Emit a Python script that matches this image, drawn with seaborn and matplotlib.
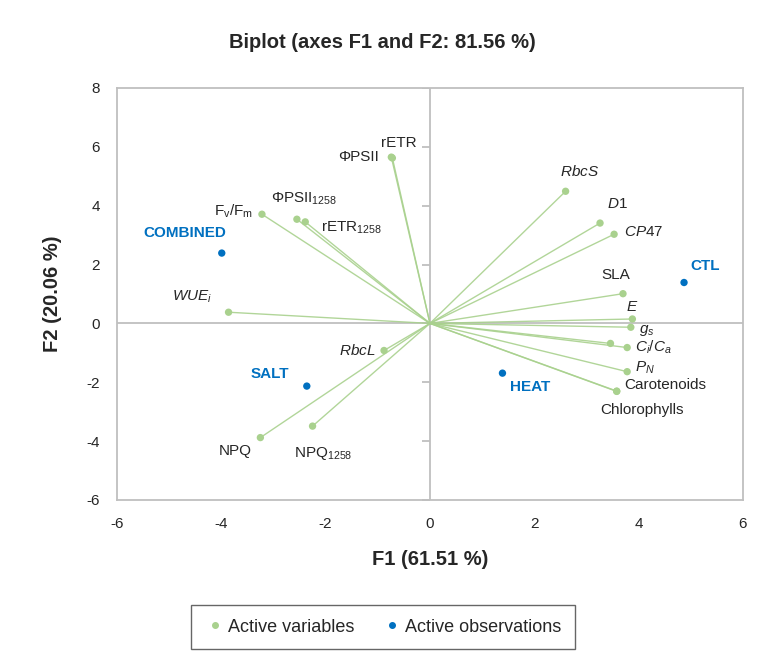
import matplotlib
matplotlib.use("Agg")
import matplotlib.pyplot as plt
import seaborn as sns
import pandas as pd
from matplotlib.lines import Line2D

var_nomes = ["rETR", "ΦPSII", r"F$_\mathregular{v}$/F$_\mathregular{m}$",
             r"ΦPSII$_\mathregular{1258}$", r"rETR$_\mathregular{1258}$",
             r"$\mathit{WUE_i}$", r"$\mathit{RbcS}$", r"$\mathit{D1}$", r"$\mathit{CP47}$",
             "SLA", r"$\mathit{E}$", r"$\mathit{g_s}$", "", r"$\mathit{C_i/C_a}$",
             r"$\mathit{P_N}$", "Carotenoids", "Chlorophylls", r"$\mathit{RbcL}$",
             "NPQ", r"NPQ$_\mathregular{1258}$"]
var_f1 = [-0.72, -0.74, -3.22, -2.55, -2.39, -3.86, 2.60, 3.26, 3.53,
          3.70, 3.88, 3.85, 3.46, 3.78, 3.78, 3.58, 3.58, -0.88, -3.25, -2.25]
var_f2 = [5.62, 5.65, 3.71, 3.54, 3.45, 0.38, 4.49, 3.41, 3.03,
          1.01, 0.15, -0.13, -0.68, -0.82, -1.64, -2.30, -2.31, -0.92, -3.88, -3.49]

obs_nomes = ["COMBINED", "CTL", "HEAT", "SALT"]
obs_f1 = [-3.99, 4.87, 1.39, -2.36]
obs_f2 = [2.39, 1.39, -1.69, -2.13]

# deslocamento dos rótulos (pixels) e alinhamento
var_off = [(6, 15, "center"), (-12, 0, "right"), (-9, 3, "right"), (7, 20, "center"),
           (16, -6, "left"), (-36, 15, "center"), (14, 20, "center"), (17, 19, "center"),
           (10, 2, "left"), (-7, 19, "center"), (0, 12, "center"), (8, -3, "left"),
           (0, 0, "center"), (8, 0, "left"), (8, 4, "left"), (8, 6, "left"),
           (25, -19, "center"), (-8, 0, "right"), (-25, -13, "center"), (11, -27, "center")]
obs_off = [(-37, 20), (21, 17), (28, -14), (-37, 12)]

verde = "#A9D18E"
azul = "#0070C0"
cinza = "#BFBFBF"

sns.set_style("white")
plt.rcParams["font.family"] = ["Liberation Sans", "DejaVu Sans"]
plt.rcParams["mathtext.fontset"] = "custom"
plt.rcParams["mathtext.rm"] = "Liberation Sans"
plt.rcParams["mathtext.it"] = "Liberation Sans:italic"
plt.rcParams["axes.unicode_minus"] = False

df_var = pd.DataFrame({"F1": var_f1, "F2": var_f2})
df_obs = pd.DataFrame({"F1": obs_f1, "F2": obs_f2})

fig = plt.figure(figsize=(7.64, 6.59), dpi=100)
ax = fig.add_axes([0.153, 0.2413, 0.8195, 0.6252])

ax.axhline(0, color=cinza, lw=1.3, zorder=1)
ax.axvline(0, color=cinza, lw=1.3, zorder=1)

xt = [-6, -4, -2, 0, 2, 4, 6]
yt = [-6, -4, -2, 0, 2, 4, 6, 8]
# marcas dos ticks sobre o eixo vertical (estilo Excel)
ax.plot([0] * len(yt), yt, ls="none", marker=0, ms=6, mew=1.3, color=cinza, zorder=1)

for x, y in zip(var_f1, var_f2):
    ax.plot([0, x], [0, y], color=verde, lw=1.0, alpha=0.9, zorder=2)

sns.scatterplot(data=df_var, x="F1", y="F2", color=verde, s=28, edgecolor="none", ax=ax, zorder=3)
sns.scatterplot(data=df_obs, x="F1", y="F2", color=azul, s=28, edgecolor="none", ax=ax, zorder=3)

for nome, x, y, (dx, dy, ha) in zip(var_nomes, var_f1, var_f2, var_off):
    ax.annotate(nome, (x, y), xytext=(dx, dy), textcoords="offset pixels",
                ha=ha, va="center", fontsize=11, color="#262626")

for nome, x, y, (dx, dy) in zip(obs_nomes, obs_f1, obs_f2, obs_off):
    ax.annotate(nome, (x, y), xytext=(dx, dy), textcoords="offset pixels",
                ha="center", va="center", fontsize=11, color=azul, fontweight="bold")

ax.set_xlim(-6, 6)
ax.set_ylim(-6, 8)
ax.set_xticks(xt)
ax.set_yticks(yt)
ax.tick_params(length=0, labelsize=11, pad=12, colors="#262626")
for s in ax.spines.values():
    s.set_color(cinza)
    s.set_linewidth(1.3)

ax.set_xlabel("F1 (61.51 %)", fontsize=14.5, fontweight="bold", labelpad=14)
ax.set_ylabel("F2 (20.06 %)", fontsize=14.5, fontweight="bold", labelpad=18)
fig.text(0.5, 1 - 43 / 659, "Biplot (axes F1 and F2: 81.56 %)", ha="center", va="center",
         fontsize=14.5, fontweight="bold")

handles = [Line2D([], [], ls="none", marker="o", ms=4, color=verde),
           Line2D([], [], ls="none", marker="o", ms=4, color=azul)]
leg = fig.legend(handles, ["Active variables", "Active observations"], ncol=2,
                 loc="center", bbox_to_anchor=(383 / 764, 1 - 627 / 659), fontsize=13,
                 frameon=True, fancybox=False, edgecolor="#404040", handletextpad=0.2,
                 columnspacing=1.5, borderpad=0.75, handlelength=1.1)
leg.get_frame().set_linewidth(1.0)

fig.savefig("out.png", dpi=100)
